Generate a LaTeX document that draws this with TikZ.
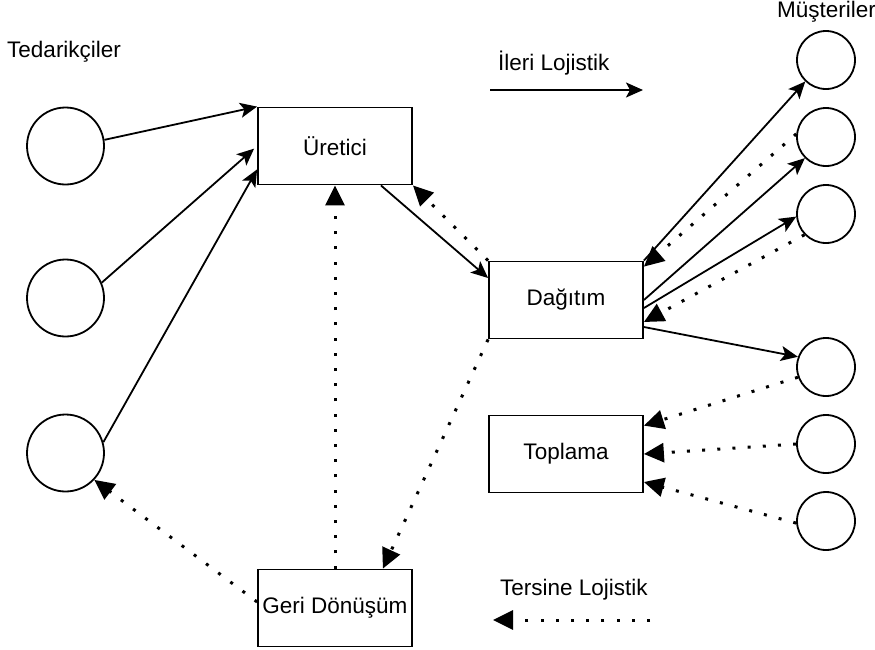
\documentclass[tikz,border=0pt]{standalone}
\usepackage{fontspec}
\setmainfont{Liberation Sans}
\usetikzlibrary{arrows.meta}
\usetikzlibrary{positioning}

\begin{document}
\begin{tikzpicture}[x=1pt,y=-1pt,node distance=77pt,
  every node/.style={font=\fontsize{22.5}{26}\selectfont},
  kutu/.style={draw,line width=1.8pt,minimum width=154pt,minimum height=77pt,inner sep=0pt},
  daire/.style={draw,circle,line width=1.8pt,inner sep=0pt},
  etiket/.style={anchor=west,inner sep=0pt},
  ileri/.style={line width=1.8pt,-{Stealth[length=17pt,width=15pt,inset=4pt]}},
  tersine/.style={line width=3pt,dash pattern=on 3pt off 12.2pt,-{Triangle[length=20pt,width=19pt]}}]
\useasboundingbox (0,0) rectangle (875,649);

  \node[daire,minimum size=77pt] (t1) at (65.5,146){};
  \node[daire,minimum size=77pt] (t2) at (65.5,298){};
  \node[daire,minimum size=77pt] (t3) at (65.5,453){};

  \node[kutu] (u) at (335,146){Üretici};
  \node[kutu] (d) at (566,300){Dağıtım};
  \node[kutu] (t) at (566,454){Toplama};
  \node[kutu] (g) at (335,608){Geri Dönüşüm};

  \node[daire,minimum size=58pt] (m1) at (826,60){};
  \node[daire,minimum size=58pt,below of=m1] (m2){};
  \node[daire,minimum size=58pt,below of=m2] (m3){};
  \node[daire,minimum size=58pt] (m4) at (826,367){};
  \node[daire,minimum size=58pt,below of=m4] (m5){};
  \node[daire,minimum size=58pt,below of=m5] (m6){};

  \node[etiket] (ted) at (7,52){Tedarikçiler};
  \node[etiket] (mus) at (777,12){Müşteriler};
  \node[etiket] (ilerietiket) at (498,63){İleri Lojistik};
  \node[etiket] (tersineetiket) at (500,590){Tersine Lojistik};
  \coordinate (i1) at (490,90);
  \coordinate (i2) at (643,90);
  \coordinate (s1) at (650,620);
  \coordinate (s2) at (493,620);

  \draw[ileri](t1.9)--(u.north west);
  \draw[ileri,shorten >=4pt](t2.23)--(u.west);
  \draw[ileri](t3.16)--([yshift=16pt]u.south west);
  \draw[ileri]([xshift=-32pt]u.south east)--([yshift=22pt]d.west);
  \draw[ileri](d.north east)--(m1.226);
  \draw[ileri](d.east)--(m2.225);
  \draw[ileri]([yshift=-8pt]d.east)--(m3.185);
  \draw[ileri]([yshift=-27pt]d.east)--(m4.160);
  \draw[ileri](i1)--(i2);

\draw[tersine](d.north west)--(u.south east);
\draw[tersine](m2.174)--([yshift=-6pt]d.north east);
\draw[tersine](m3.224)--([yshift=-22pt]d.east);
\draw[tersine](m4.200)--([yshift=-11pt]t.north east);
\draw[tersine](m5.180)--(t.east);
\draw[tersine](m6.184)--([yshift=-28pt]t.east);
\draw[tersine](d.south west)--([xshift=-30pt]g.north east);
\draw[tersine](g.north)--(u.south);
\draw[tersine]([yshift=6pt]g.west)--(t3.317);
\draw[tersine](s1)--(s2);
  \end{tikzpicture}
\end{document}
